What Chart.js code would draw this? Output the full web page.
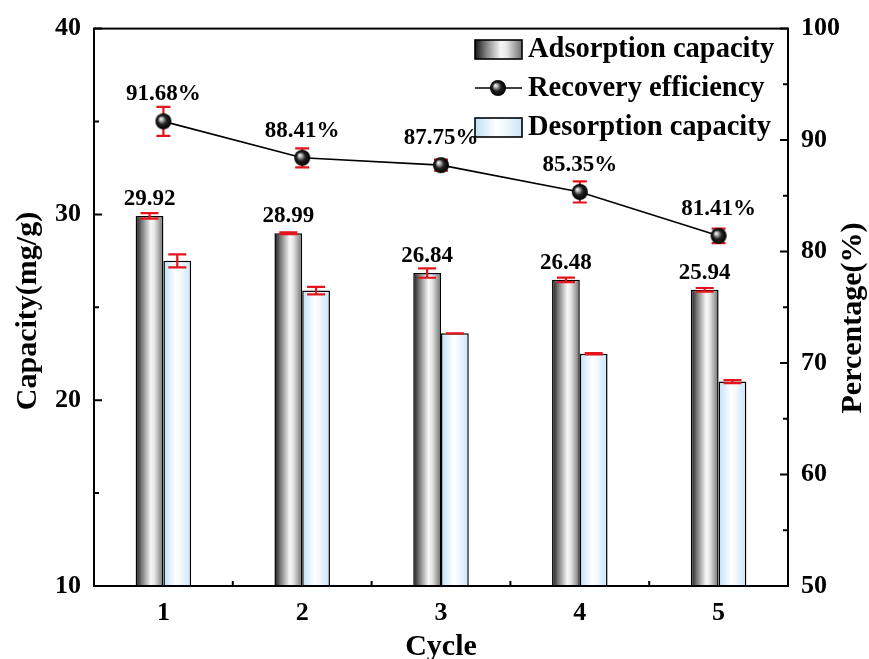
<!DOCTYPE html>
<html>
<head>
<meta charset="utf-8">
<script src="https://cdn.jsdelivr.net/npm/chart.js@4.4.0/dist/chart.umd.min.js"></script>
<style>
  html, body { margin: 0; padding: 0; background: #fff; }
</style>
</head>
<body>
<canvas id="myChart" width="869" height="659"></canvas>
<script>
const cycles = ["1", "2", "3", "4", "5"];
const adsorption = [29.92, 28.99, 26.84, 26.48, 25.94];
const adsorptionErr = [0.15, 0.05, 0.25, 0.12, 0.1];
const desorption = [27.5, 25.9, 23.6, 22.5, 21.0];
const desorptionErr = [0.35, 0.2, 0.0, 0.03, 0.08];
const recovery = [91.68, 88.41, 87.75, 85.35, 81.41];
const recoveryErr = [1.3, 0.85, 0.5, 0.95, 0.65];
const capTicks = [10, 20, 30, 40];
const pctTicks = [50, 60, 70, 80, 90, 100];

const FONT = "'Liberation Serif', 'Times New Roman', serif";
const RED = "#e3141b";
const greyStops = [[0, "#151515"], [0.22, "#7a7a7a"], [0.55, "#f8f8f8"], [0.68, "#e6e6e6"], [1, "#6e6e6e"]];
const blueStops = [[0, "#bfe0f7"], [0.45, "#ffffff"], [0.6, "#f4fafe"], [1, "#c9e4f8"]];

function sphere(r) {
  const c = document.createElement("canvas");
  c.width = c.height = 2 * r + 2;
  const g = c.getContext("2d");
  const m = r + 1;
  const grad = g.createRadialGradient(m - r * 0.35, m - r * 0.35, 0, m, m, r);
  grad.addColorStop(0, "#ffffff");
  grad.addColorStop(0.22, "#b8b8b8");
  grad.addColorStop(0.55, "#222");
  grad.addColorStop(1, "#000");
  g.fillStyle = grad;
  g.beginPath();
  g.arc(m, m, r, 0, Math.PI * 2);
  g.fill();
  return c;
}
const ball = sphere(8);

function gradFill(ctx, left, w, stops) {
  const g = ctx.createLinearGradient(left, 0, left + w, 0);
  stops.forEach((s) => g.addColorStop(s[0], s[1]));
  return g;
}

function barFill(stops, side) {
  return (c) => {
    const xs = c.chart.scales.x;
    if (!xs || c.dataIndex === undefined) return stops[1][1];
    const cx = xs.getPixelForValue(c.dataIndex);
    const w = (xs.width / cycles.length) * 0.4 / 2;
    if (!isFinite(cx) || !isFinite(w) || w <= 0) return stops[1][1];
    const left = side < 0 ? cx - w : cx;
    return gradFill(c.chart.ctx, left, w, stops);
  };
}

function errBar(ctx, x, ys, v, e, capW) {
  const yt = ys.getPixelForValue(v + e);
  const yb = ys.getPixelForValue(v - e);
  ctx.beginPath();
  ctx.moveTo(x, yt); ctx.lineTo(x, yb);
  ctx.moveTo(x - capW / 2, yt); ctx.lineTo(x + capW / 2, yt);
  ctx.moveTo(x - capW / 2, yb); ctx.lineTo(x + capW / 2, yb);
  ctx.stroke();
}

const errs = [adsorptionErr, desorptionErr, recoveryErr];

function drawErrors(chart, index) {
  const ctx = chart.ctx;
  const meta = chart.getDatasetMeta(index);
  const ys = index === 2 ? chart.scales.y1 : chart.scales.y;
  const vals = chart.data.datasets[index].data;
  ctx.save();
  ctx.strokeStyle = RED;
  ctx.lineWidth = 2.2;
  meta.data.forEach((el, i) => {
    errBar(ctx, el.x, ys, vals[i], errs[index][i], index === 2 ? 14 : 18);
  });
  ctx.restore();
}

const overlay = {
  id: "overlay",
  beforeDatasetDraw(chart, args) {
    if (args.index === 2) drawErrors(chart, 2);
  },
  afterDatasetDraw(chart, args) {
    if (args.index < 2) drawErrors(chart, args.index);
  },
  afterDraw(chart) {
    const ctx = chart.ctx;
    const a = chart.chartArea;
    const x = chart.scales.x, y = chart.scales.y, y1 = chart.scales.y1;
    ctx.save();
    // frame
    ctx.strokeStyle = "#000";
    ctx.lineWidth = 2;
    ctx.strokeRect(a.left, a.top, a.right - a.left, a.bottom - a.top);
    // inward ticks
    ctx.beginPath();
    for (let v = 10; v <= 40; v += 5) {
      const p = y.getPixelForValue(v);
      const len = v % 10 === 0 ? 8 : 5;
      ctx.moveTo(a.left, p); ctx.lineTo(a.left + len, p);
    }
    for (let v = 50; v <= 100; v += 5) {
      const p = y1.getPixelForValue(v);
      const len = v % 10 === 0 ? 8 : 5;
      ctx.moveTo(a.right, p); ctx.lineTo(a.right - len, p);
    }
    for (let i = 0; i < cycles.length - 1; i++) {
      const p = (x.getPixelForValue(i) + x.getPixelForValue(i + 1)) / 2;
      ctx.moveTo(p, a.bottom); ctx.lineTo(p, a.bottom - 5);
    }
    ctx.stroke();

    // value labels
    ctx.fillStyle = "#000";
    ctx.textAlign = "center";
    ctx.textBaseline = "alphabetic";
    ctx.font = "bold 23px " + FONT;
    const m0 = chart.getDatasetMeta(0);
    m0.data.forEach((el, i) => {
      ctx.fillText(adsorption[i].toFixed(2), el.x, y.getPixelForValue(adsorption[i]) - 11);
    });
    const m2 = chart.getDatasetMeta(2);
    m2.data.forEach((el, i) => {
      ctx.fillText(recovery[i].toFixed(2) + "%", el.x, el.y - 21);
    });

    // axis titles
    ctx.font = "bold 30px " + FONT;
    ctx.textBaseline = "middle";
    ctx.save();
    ctx.translate(28, 311);
    ctx.rotate(-Math.PI / 2);
    ctx.fillText("Capacity(mg/g)", 0, 0);
    ctx.restore();
    ctx.save();
    ctx.translate(853, 318);
    ctx.rotate(-Math.PI / 2);
    ctx.fillText("Percentage(%)", 0, 0);
    ctx.restore();
    ctx.fillText("Cycle", (a.left + a.right) / 2, 647);

    // legend
    ctx.font = "bold 28.5px " + FONT;
    ctx.textAlign = "left";
    ctx.lineWidth = 1.6;
    ctx.fillStyle = gradFill(ctx, 475, 47, greyStops);
    ctx.fillRect(475, 40, 47, 19);
    ctx.strokeRect(475, 40, 47, 19);
    ctx.fillStyle = gradFill(ctx, 475, 47, blueStops);
    ctx.fillRect(475, 118, 47, 19);
    ctx.strokeRect(475, 118, 47, 19);
    ctx.beginPath();
    ctx.moveTo(475, 88); ctx.lineTo(522, 88);
    ctx.stroke();
    ctx.drawImage(ball, 498 - ball.width / 2, 88 - ball.height / 2);
    ctx.fillStyle = "#000";
    ctx.fillText("Adsorption capacity", 528, 50);
    ctx.fillText("Recovery efficiency", 528, 89);
    ctx.fillText("Desorption capacity", 528, 128);
    ctx.restore();
  },
};

const tickFont = { family: FONT, size: 26, weight: "bold" };

const data = {
  labels: cycles,
  datasets: [
    {
      type: "bar",
      label: "Adsorption capacity",
      data: adsorption,
      yAxisID: "y",
      backgroundColor: barFill(greyStops, -1),
      borderColor: "#000",
      borderWidth: 1.5,
      borderSkipped: false,
      order: 2,
    },
    {
      type: "bar",
      label: "Desorption capacity",
      data: desorption,
      yAxisID: "y",
      backgroundColor: barFill(blueStops, 1),
      borderColor: "#000",
      borderWidth: 1.5,
      borderSkipped: false,
      order: 2,
    },
    {
      type: "line",
      label: "Recovery efficiency",
      data: recovery,
      yAxisID: "y1",
      borderColor: "#000",
      borderWidth: 1.6,
      pointStyle: ball,
      tension: 0,
      order: 1,
    },
  ],
};

const config = {
  type: "bar",
  data,
  options: {
    responsive: false,
    animation: false,
    layout: { padding: { top: 28, left: 0, right: 0, bottom: 0 } },
    datasets: { bar: { categoryPercentage: 0.4, barPercentage: 1 } },
    plugins: { legend: { display: false }, tooltip: { enabled: false } },
    scales: {
      x: {
        type: "category",
        offset: true,
        grid: { display: false, drawTicks: false },
        border: { display: false },
        ticks: { font: tickFont, color: "#000", padding: 12, maxRotation: 0 },
        afterFit: (s) => { s.height = 73; },
      },
      y: {
        position: "left",
        min: 10,
        max: 40,
        afterBuildTicks: (s) => { s.ticks = capTicks.map((v) => ({ value: v })); },
        grid: { display: false, drawTicks: false },
        border: { display: false },
        ticks: { font: tickFont, color: "#000", padding: 13 },
        afterFit: (s) => { s.width = 94; },
      },
      y1: {
        position: "right",
        min: 50,
        max: 100,
        afterBuildTicks: (s) => { s.ticks = pctTicks.map((v) => ({ value: v })); },
        grid: { display: false, drawTicks: false },
        border: { display: false },
        ticks: { font: tickFont, color: "#000", padding: 13 },
        afterFit: (s) => { s.width = 81; },
      },
    },
  },
  plugins: [overlay],
};

const myChart = new Chart(document.getElementById("myChart").getContext("2d"), config);
</script>
</body>
</html>
